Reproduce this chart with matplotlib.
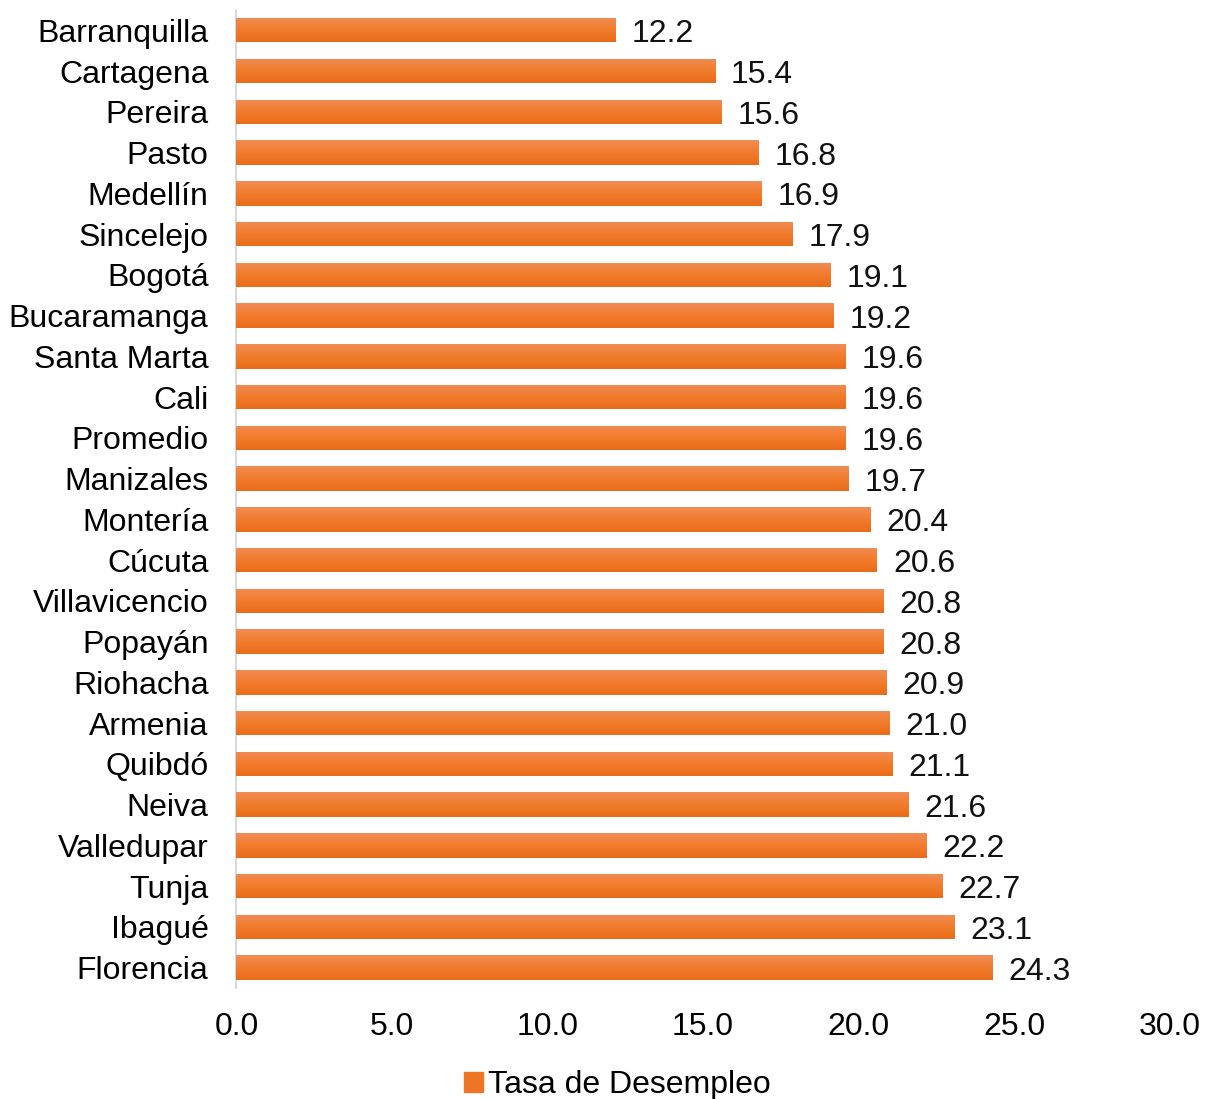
import matplotlib; matplotlib.use('Agg')
import matplotlib.pyplot as plt
import matplotlib.patches as mpatches
import numpy as np

plt.rcParams['font.family'] = ['Liberation Sans', 'DejaVu Sans']

# data (top to bottom)
ciudades = ['Barranquilla', 'Cartagena', 'Pereira', 'Pasto', 'Medellín', 'Sincelejo',
            'Bogotá', 'Bucaramanga', 'Santa Marta', 'Cali', 'Promedio', 'Manizales',
            'Montería', 'Cúcuta', 'Villavicencio', 'Popayán', 'Riohacha', 'Armenia',
            'Quibdó', 'Neiva', 'Valledupar', 'Tunja', 'Ibagué', 'Florencia']
tasa = [12.2, 15.4, 15.6, 16.8, 16.9, 17.9, 19.1, 19.2, 19.6, 19.6, 19.6, 19.7,
        20.4, 20.6, 20.8, 20.8, 20.9, 21.0, 21.1, 21.6, 22.2, 22.7, 23.1, 24.3]
xticks = [0, 5, 10, 15, 20, 25, 30]

ORANGE = '#ED7526'
FS = 23
fig = plt.figure(figsize=(12.06, 10.99), dpi=100)
ax = fig.add_axes([0.196, 0.101, 0.774, 0.890])

y = np.arange(len(ciudades))
bars = ax.barh(y, tasa, height=0.6, color=ORANGE, zorder=2)

# vertical gradient on each bar (lighter top, darker bottom)
grad = np.linspace(0, 1, 50).reshape(-1, 1)
cmap = matplotlib.colors.LinearSegmentedColormap.from_list('g', ['#F08C56', '#F27C2C', '#E86C1A'])
for b in bars:
    x0, y0 = b.get_x(), b.get_y()
    w, h = b.get_width(), b.get_height()
    im = ax.imshow(grad, cmap=cmap, aspect='auto', extent=(x0, x0 + w, y0 + h, y0),
                   zorder=3)
    im.set_clip_path(b)

for yi, v in zip(y, tasa):
    ax.text(v + 0.5, yi + 0.1, f'{v:.1f}', va='center', ha='left', fontsize=FS, color='#111111')

ax.set_xlim(0, 30)
ax.set_ylim(len(ciudades) - 0.5, -0.5)
ax.set_yticks(y)
ax.set_yticklabels(ciudades, fontsize=FS)
ax.set_xticks(xticks)
ax.set_xticklabels([f'{t:.1f}' for t in xticks], fontsize=FS)
ax.tick_params(axis='both', length=0)
ax.tick_params(axis='y', pad=20)
ax.tick_params(axis='x', pad=17)
for s in ['top', 'right', 'bottom']:
    ax.spines[s].set_visible(False)
ax.spines['left'].set_color('#D9D9D9')
ax.spines['left'].set_linewidth(1.5)

handle = mpatches.Patch(color=ORANGE, label='Tasa de Desempleo')
fig.legend(handles=[handle], loc='lower center', bbox_to_anchor=(0.512, -0.027), frameon=False,
           fontsize=FS, handlelength=0.6, handleheight=0.6, handletextpad=0.15)

fig.savefig('out.png', dpi=100)
